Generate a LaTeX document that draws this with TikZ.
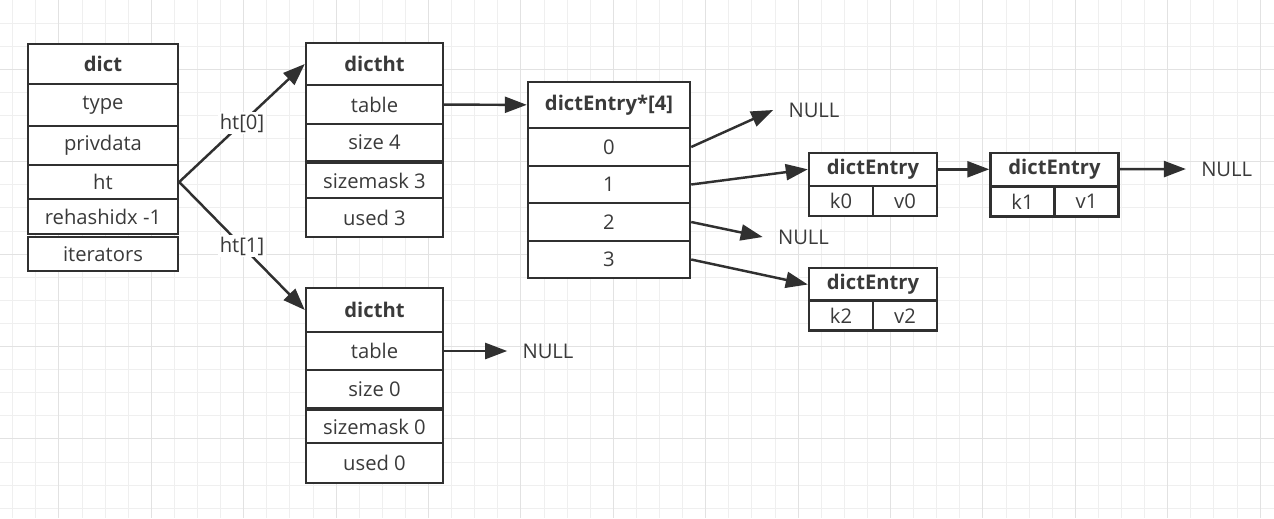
\documentclass[tikz,border=0pt]{standalone}
\usepackage{fontspec}
\setmainfont{Open Sans}
\usetikzlibrary{positioning}
\usetikzlibrary{arrows.meta}
\definecolor{linegray}{HTML}{303030}
\definecolor{txtgray}{HTML}{3A3A3A}
\definecolor{gridminor}{HTML}{EFEFEF}
\definecolor{gridmajor}{HTML}{E2E2E2}
\tikzset{
    cell/.style = {rectangle, draw=linegray, line width=1.4pt, fill=white, text=txtgray, inner sep=0pt, font=\fontsize{11.5}{13}\selectfont},
    dictcell/.style = {cell, minimum width=3cm},
    htcell/.style = {cell, minimum width=2.74cm},
    arrcell/.style = {cell, minimum width=3.24cm, minimum height=0.75cm},
    entcell/.style = {cell, minimum width=2.56cm, minimum height=0.66cm, font=\fontsize{11.5}{13}\selectfont\bfseries},
    kvcell/.style = {cell, minimum width=1.28cm, minimum height=0.6cm},
    nullnode/.style = {inner xsep=0.3cm, inner ysep=0pt, text=txtgray, font=\fontsize{11.5}{13}\selectfont},
    lbl/.style = {fill=white, inner sep=1pt, text=txtgray, font=\fontsize{11.5}{13}\selectfont},
    edgep/.style = {-{Triangle[length=0.44cm,width=0.32cm]}, line width=1.4pt, draw=linegray},
    gridline/.style = {line width=0.55pt, draw=gridminor},
    gridbold/.style = {line width=0.6pt, draw=gridmajor}
}
\begin{document}
\begin{tikzpicture}[x=0.02cm, y=-0.02cm]
% background grid
\fill[white] (0,0) rectangle (1274,518);
\useasboundingbox (0,0) rectangle (1274,518);
\foreach \i in {0,...,54} \draw[gridline] ({12.7+23.1*\i},0) -- ({12.7+23.1*\i},518);
\foreach \j in {1,...,22} \draw[gridline] (0,{23.1*\j}) -- (1274,{23.1*\j});
\foreach \i in {2,6,...,54} \draw[gridbold] ({12.7+23.1*\i},0) -- ({12.7+23.1*\i},518);
\foreach \j in {3,7,...,19} \draw[gridbold] (0,{23.1*\j}) -- (1274,{23.1*\j});
%
% dict
\node[dictcell, minimum height=0.80cm, font=\fontsize{11.5}{13}\selectfont\bfseries] at (103, 64) (dict) {dict};
\node[dictcell, minimum height=0.84cm] at (103, 105) (type) {type};
\node[dictcell, minimum height=0.78cm] at (103, 145.5) (privdata) {privdata};
\node[dictcell, minimum height=0.68cm] at (103, 182) (ht) {ht};
\node[dictcell, minimum height=0.70cm] at (103, 216.5) (rehash) {rehashidx -1};
\node[dictcell, minimum height=0.68cm] at (103, 254) (iter) {iterators};
%
% dictht 0
\node[htcell, minimum height=0.84cm, font=\fontsize{11.5}{13}\selectfont\bfseries] at (374.5, 64) (hta) {dictht};
\node[htcell, minimum height=0.78cm] at (374.5, 104.5) (tablea) {table};
\node[htcell, minimum height=0.74cm] at (374.5, 142.5) (sizea) {size 4};
\node[htcell, minimum height=0.70cm] at (374.5, 180.5) (maska) {sizemask 3};
\node[htcell, minimum height=0.78cm] at (374.5, 217.5) (useda) {used 3};
%
% dictht 1
\node[htcell, minimum height=0.88cm, font=\fontsize{11.5}{13}\selectfont\bfseries] at (374.5, 310) (htb) {dictht};
\node[htcell, minimum height=0.76cm] at (374.5, 351) (tableb) {table};
\node[htcell, minimum height=0.76cm] at (374.5, 389) (sizeb) {size 0};
\node[htcell, minimum height=0.66cm] at (374.5, 426.5) (maskb) {sizemask 0};
\node[htcell, minimum height=0.80cm] at (374.5, 463) (usedb) {used 0};
%
% dictEntry*[4]
\node[arrcell, minimum height=0.92cm, font=\fontsize{11.5}{13}\selectfont\bfseries] at (609, 105) (arr) {dictEntry*[4]};
\node[arrcell] at (609, 147) (slot0) {0};
\node[arrcell] at (609, 184.5) (slot1) {1};
\node[arrcell] at (609, 222) (slot2) {2};
\node[arrcell] at (609, 259.5) (slot3) {3};
%
% entries
\node[entcell] at (873, 169.3) (ea) {dictEntry};
\node[kvcell] at (841, 201) (ka) {k0};
\node[kvcell] at (905, 201) (va) {v0};
\node[entcell] at (1054.5, 169.3) (eb) {dictEntry};
\node[kvcell] at (1022.5, 201.5) (kb) {k1};
\node[kvcell] at (1086.5, 201.5) (vb) {v1};
\node[entcell] at (873, 284.5) (ec) {dictEntry};
\node[kvcell] at (841, 315.7) (kc) {k2};
\node[kvcell] at (905, 315.7) (vc) {v2};
%
% NULL
\node[nullnode] at (814, 110) (nulla) {NULL};
\node[nullnode] at (803.5, 237) (nullb) {NULL};
\node[nullnode] at (548, 351) (nullc) {NULL};
\node[nullnode] at (1226.7, 169) (nulld) {NULL};
%
\path (ht.east) edge[edgep] node[lbl] {ht[0]} (hta.west);
\path (ht.east) edge[edgep] node[lbl] {ht[1]} (htb.west);
\path (tablea) edge[edgep] (arr);
\path (tableb) edge[edgep] (nullc.west);
\path (slot0.east) edge[edgep] (nulla.west);
\path (slot1.east) edge[edgep] (ea.west);
\path (slot2.east) edge[edgep] (nullb.west);
\path (slot3.east) edge[edgep] (ec.west);
\path (ea) edge[edgep] (eb);
\path (eb) edge[edgep] (nulld.west);

\end{tikzpicture}
\end{document}
